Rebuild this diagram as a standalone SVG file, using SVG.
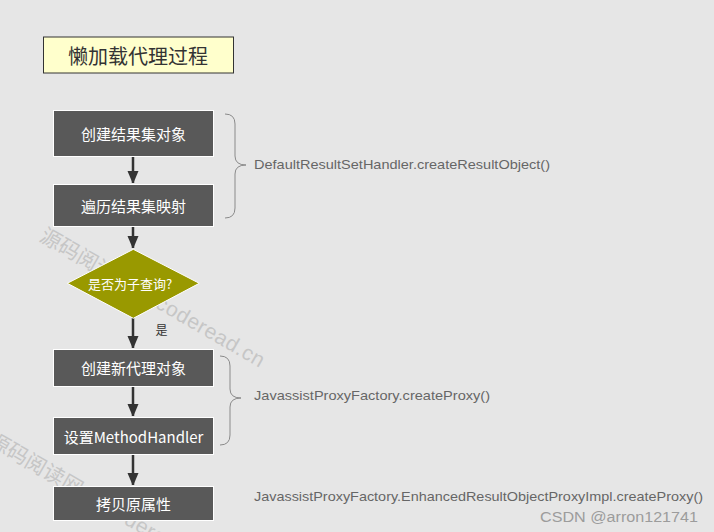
<svg xmlns="http://www.w3.org/2000/svg" width="714" height="532" viewBox="0 0 714 532">
<style>
.bg{fill:#e6e6e6}
.box{fill:#595959;stroke:#ffffff;stroke-width:1}
.bt{fill:#ffffff;font-family:"Noto Sans CJK SC","Liberation Sans",sans-serif;font-size:15px;text-anchor:middle;dominant-baseline:central}
.dt{fill:#ffffff;font-family:"Noto Sans CJK SC","Liberation Sans",sans-serif;font-size:13px;text-anchor:middle;dominant-baseline:central}
.note{fill:#666666;font-family:"Liberation Sans","Noto Sans",sans-serif;font-size:13.5px;dominant-baseline:central}
.wm{fill:#c6c6c6;font-family:"Liberation Sans","Noto Sans CJK SC",sans-serif;font-size:21px}
.conn line{stroke:#333333;stroke-width:2.5}
.brace{fill:none;stroke:#8a8a8a;stroke-width:1}
</style>
<defs>
<marker id="ah" markerUnits="userSpaceOnUse" markerWidth="12" markerHeight="14" refX="12" refY="5.5" orient="auto">
<path d="M0,0 L13,5.5 L0,11 Z" fill="#333333"/>
</marker>
</defs>
<rect class="bg" x="0" y="0" width="714" height="532"/>

<g id="watermarks">
<text class="wm" transform="translate(38.3,240) rotate(30)" x="0" y="0">源码阅读网<tspan x="134" letter-spacing="0.6">coderead.cn</tspan></text>
<text class="wm" transform="translate(-13.3,444.5) rotate(30)" x="0" y="0">源码阅读网<tspan x="134" letter-spacing="0.6">coderead.cn</tspan></text>
</g>

<g id="title">
<rect x="43.5" y="37" width="190" height="36" fill="#ffffcc" stroke="#333333" stroke-width="1"/>
<text x="138" y="55" fill="#333333" font-family="Noto Sans CJK SC, Liberation Sans, sans-serif" font-size="20" text-anchor="middle" dominant-baseline="central">懒加载代理过程</text>
</g>

<g class="conn" id="connectors">
<line x1="133" y1="156" x2="133" y2="183" marker-end="url(#ah)"/>
<line x1="133" y1="226" x2="133" y2="248" marker-end="url(#ah)"/>
<line x1="133" y1="318" x2="133" y2="348" marker-end="url(#ah)"/>
<line x1="133" y1="386" x2="133" y2="416" marker-end="url(#ah)"/>
<line x1="133" y1="454" x2="133" y2="485" marker-end="url(#ah)"/>
</g>

<g id="n1"><rect class="box" x="53.5" y="110.5" width="160" height="46"/><text class="bt" x="133.5" y="133">创建结果集对象</text></g>
<g id="n2"><rect class="box" x="53.5" y="184.5" width="160" height="42"/><text class="bt" x="133.5" y="205.5">遍历结果集映射</text></g>
<g id="n3"><polygon points="133.3,249.3 199.3,283.3 133.3,318.3 67.3,283.3" fill="#999900" stroke="#ffffff" stroke-width="1"/><text class="dt" x="130" y="283">是否为子查询?</text></g>
<g id="lbl"><text x="161.5" y="329" fill="#333333" font-family="Noto Sans CJK SC, sans-serif" font-size="12" text-anchor="middle" dominant-baseline="central">是</text></g>
<g id="n4"><rect class="box" x="53.5" y="349.5" width="160" height="37"/><text class="bt" x="133.5" y="367.5">创建新代理对象</text></g>
<g id="n5"><rect class="box" x="53.5" y="417.5" width="160" height="37"/><text class="bt" x="133.5" y="436">设置MethodHandler</text></g>
<g id="n6"><rect class="box" x="53.5" y="486.5" width="160" height="34"/><text class="bt" x="133.5" y="503.5">拷贝原属性</text></g>

<g id="brace1">
<path class="brace" d="M225,114 Q235,114 235,124 L235,156 Q235,165 246,165 Q235,165 235,174 L235,208 Q235,218 225,218"/>
<text class="note" x="254" y="164" textLength="296" lengthAdjust="spacingAndGlyphs">DefaultResultSetHandler.createResultObject()</text>
</g>
<g id="brace2">
<path class="brace" d="M220,356 Q230,356 230,366 L230,389 Q230,398 241,398 Q230,398 230,407 L230,435 Q230,445 220,445"/>
<text class="note" x="254" y="395" textLength="236" lengthAdjust="spacingAndGlyphs">JavassistProxyFactory.createProxy()</text>
</g>
<g id="note3">
<text class="note" x="254" y="496" textLength="449" lengthAdjust="spacingAndGlyphs">JavassistProxyFactory.EnhancedResultObjectProxyImpl.createProxy()</text>
</g>
<g id="credit">
<text x="540" y="516" fill="#9c9c9c" font-family="Liberation Sans, sans-serif" font-size="15.5" dominant-baseline="central" textLength="158" lengthAdjust="spacingAndGlyphs">CSDN @arron121741</text>
</g>
</svg>
